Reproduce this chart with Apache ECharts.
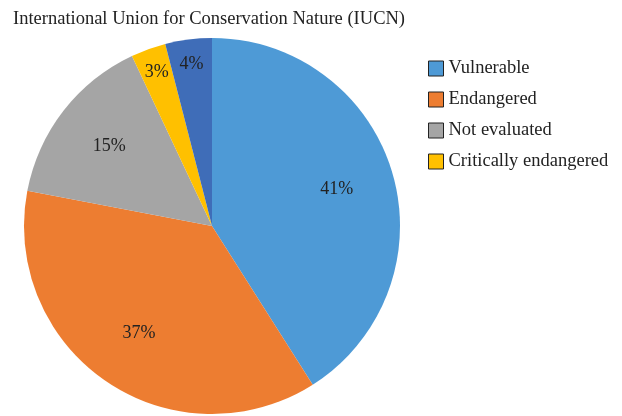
<!DOCTYPE html>
<html>
<head>
<meta charset="utf-8">
<script src="https://cdn.jsdelivr.net/npm/echarts@6/dist/echarts.min.js"></script>
<style>html,body{margin:0;padding:0;background:#fff}#c{width:622px;height:416px}</style>
</head>
<body>
<div id="c"></div>
<script>
var categories = ['Vulnerable', 'Endangered', 'Not evaluated', 'Critically endangered', 'Other'];
var values = [41, 37, 15, 3, 4];
var legendNames = ['Vulnerable', 'Endangered', 'Not evaluated', 'Critically endangered'];
var colors = ['#4E9AD6', '#ED7D31', '#A5A5A5', '#FFC000', '#3F6DB8'];
var smallSlices = ['Critically endangered', 'Other'];

var font = 'Liberation Serif';
function buildData(labelFilter, transparent) {
  return categories.map(function (n, i) {
    var d = { name: n, value: values[i], itemStyle: { color: transparent ? 'rgba(0,0,0,0)' : colors[i] } };
    if (labelFilter) d.label = { show: labelFilter(n) };
    return d;
  });
}
var labelStyle = { position: 'inside', formatter: '{c}%', fontFamily: font, fontSize: 18, color: '#222' };

var chart = echarts.init(document.getElementById('c'));
chart.setOption({
  animation: false,
  title: {
    text: 'International Union for Conservation Nature (IUCN)',
    left: 8, top: 5,
    textStyle: { fontFamily: font, fontSize: 18.5, fontWeight: 'normal', color: '#222' }
  },
  legend: {
    data: legendNames,
    orient: 'vertical',
    left: 423, top: 54,
    itemWidth: 15, itemHeight: 15, itemGap: 12,
    icon: 'rect',
    itemStyle: { borderColor: '#222', borderWidth: 1 },
    textStyle: { fontFamily: font, fontSize: 18.5, color: '#222' }
  },
  series: [
    {
      type: 'pie', center: [212, 226], radius: [0, 188],
      startAngle: 90, clockwise: true, silent: true,
      label: { show: false }, labelLine: { show: false },
      itemStyle: { borderWidth: 0 },
      data: buildData(null, false)
    },
    {
      type: 'pie', center: [212, 226], radius: [66, 188],
      startAngle: 90, clockwise: true, silent: true,
      label: labelStyle, labelLine: { show: false },
      itemStyle: { borderWidth: 0 },
      data: buildData(function (n) { return smallSlices.indexOf(n) < 0; }, true)
    },
    {
      type: 'pie', center: [212, 226], radius: [132, 188],
      startAngle: 90, clockwise: true, silent: true,
      label: labelStyle, labelLine: { show: false },
      itemStyle: { borderWidth: 0 },
      data: buildData(function (n) { return smallSlices.indexOf(n) >= 0; }, true)
    }
  ]
});
</script>
</body>
</html>
